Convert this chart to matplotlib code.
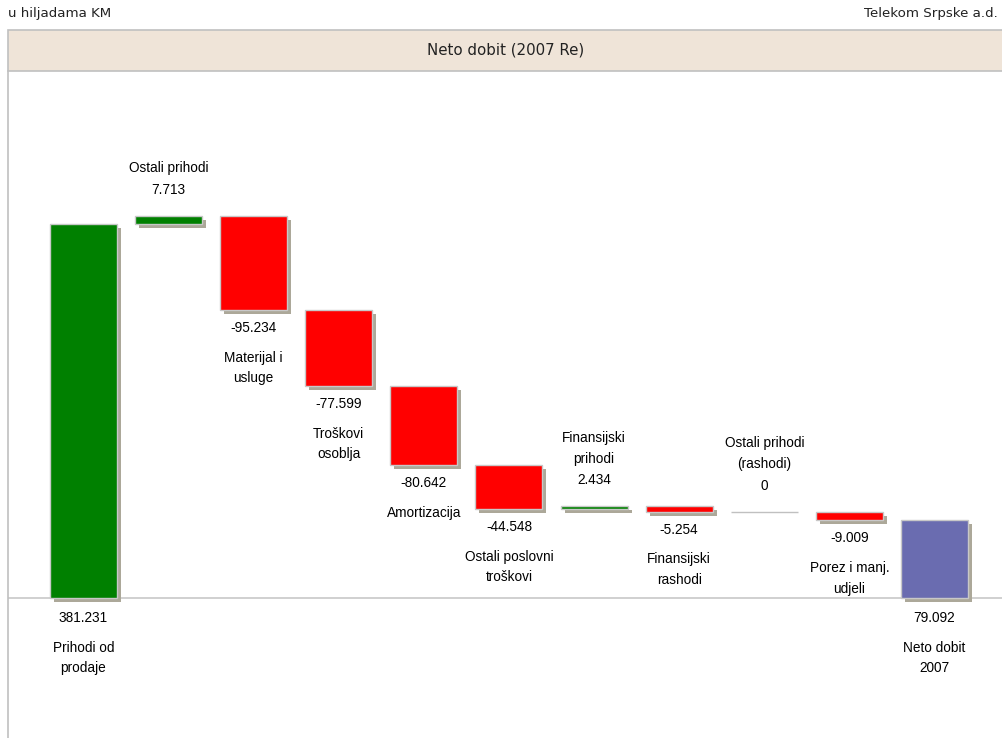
import matplotlib.pyplot as plt
from matplotlib import transforms
from matplotlib.patches import Rectangle
from matplotlib.lines import Line2D

# values in thousands KM (shown as 381.231 etc.)
labels = ['Prihodi od\nprodaje', 'Ostali prihodi', 'Materijal i\nusluge',
          'Troškovi\nosoblja', 'Amortizacija', 'Ostali poslovni\ntroškovi',
          'Finansijski\nprihodi', 'Finansijski\nrashodi',
          'Ostali prihodi\n(rashodi)', 'Porez i manj.\nudjeli', 'Neto dobit\n2007']
values = [381231, 7713, -95234, -77599, -80642, -44548, 2434, -5254, 0, -9009, 79092]
kinds = ['total', 'step', 'step', 'step', 'step', 'step', 'step', 'step', 'step', 'step', 'final']

GREEN = '#008000'
RED = '#ff0000'
BLUE = '#6a6cb0'
SHADOW = '#aca899'
EDGE = '#c8c8c8'
FONT = 'Liberation Sans'
FS = 9.8
LS = 1.6


def fmt(v):
    return f"{v:,}".replace(",", ".")


W, H = 1003, 738
fig = plt.figure(figsize=(W / 100, H / 100), dpi=100)

# header texts and band (figure pixel coords)
fig.text(8 / W, 1 - 14 / H, 'u hiljadama KM', ha='left', va='center',
         fontsize=9.6, family='DejaVu Sans', color='#222222')
fig.text(998 / W, 1 - 14 / H, 'Telekom Srpske a.d.', ha='right', va='center',
         fontsize=9.6, family='DejaVu Sans', color='#222222')
fig.patches.append(Rectangle((8 / W, 1 - 71 / H), (W - 8) / W, 41 / H,
                             transform=fig.transFigure, facecolor='#efe4d8',
                             edgecolor='#c0c0c0', lw=1.2))
fig.text(0.5 + 4 / W, 1 - 50 / H, 'Neto dobit (2007 Re)', ha='center', va='center',
         fontsize=10.8, family='DejaVu Sans', color='#222222')
fig.lines.append(Line2D([8 / W, 8 / W], [0, 1 - 71 / H], transform=fig.transFigure,
                        color='#c0c0c0', lw=1.2))

# main axes
ax = fig.add_axes([8 / W, 0, (W - 8) / W, (H - 72) / H])
ax.set_axis_off()
px_per_unit = 0.981 / 1000
ax.set_ylim(-140 / px_per_unit, 526 / px_per_unit)
ax.set_xlim(-0.887, -0.887 + 995 / 85.1)
ax.axhline(0, color='#c8c8c8', lw=1.2, zorder=1)

shadow_tr = transforms.offset_copy(ax.transData, fig=fig, x=4, y=-4, units='dots')

running = 0
for i, (lab, v, k) in enumerate(zip(labels, values, kinds)):
    if k == 'total':
        bottom, height, color = 0, v, GREEN
        running = v
    elif k == 'final':
        bottom, height, color = 0, v, BLUE
    else:
        bottom = running if v >= 0 else running + v
        height = abs(v)
        color = GREEN if v > 0 else RED
        running += v

    ax.bar(i, height, bottom=bottom, width=0.787, color=SHADOW,
           transform=shadow_tr, zorder=2, linewidth=0)
    if v == 0:
        ax.bar(i, height, bottom=bottom, width=0.787, color='none',
               edgecolor='#c0c0c0', lw=1.0, zorder=3)
    else:
        ax.bar(i, height, bottom=bottom, width=0.787, color=color,
               edgecolor=EDGE, lw=1.0, zorder=3)

    nlines = lab.count('\n') + 1
    half = 10 * (nlines - 1)
    if k in ('total', 'final'):
        ax.annotate(fmt(v), (i, 0), xytext=(0, -20), textcoords='offset pixels',
                    ha='center', va='center', fontsize=FS, family=FONT)
        ax.annotate(lab, (i, 0), xytext=(0, -50 - half),
                    textcoords='offset pixels', ha='center', va='center',
                    fontsize=FS, family=FONT, linespacing=LS)
    elif v >= 0:
        top = bottom + height
        ax.annotate(fmt(v), (i, top), xytext=(0, 26), textcoords='offset pixels',
                    ha='center', va='center', fontsize=FS, family=FONT)
        ax.annotate(lab, (i, top), xytext=(0, 48 + half),
                    textcoords='offset pixels', ha='center', va='center',
                    fontsize=FS, family=FONT, linespacing=LS)
    else:
        ax.annotate(fmt(v), (i, bottom), xytext=(0, -18), textcoords='offset pixels',
                    ha='center', va='center', fontsize=FS, family=FONT)
        ax.annotate(lab, (i, bottom), xytext=(0, -48 - half),
                    textcoords='offset pixels', ha='center', va='center',
                    fontsize=FS, family=FONT, linespacing=LS)

fig.savefig('out.png', dpi=100)
